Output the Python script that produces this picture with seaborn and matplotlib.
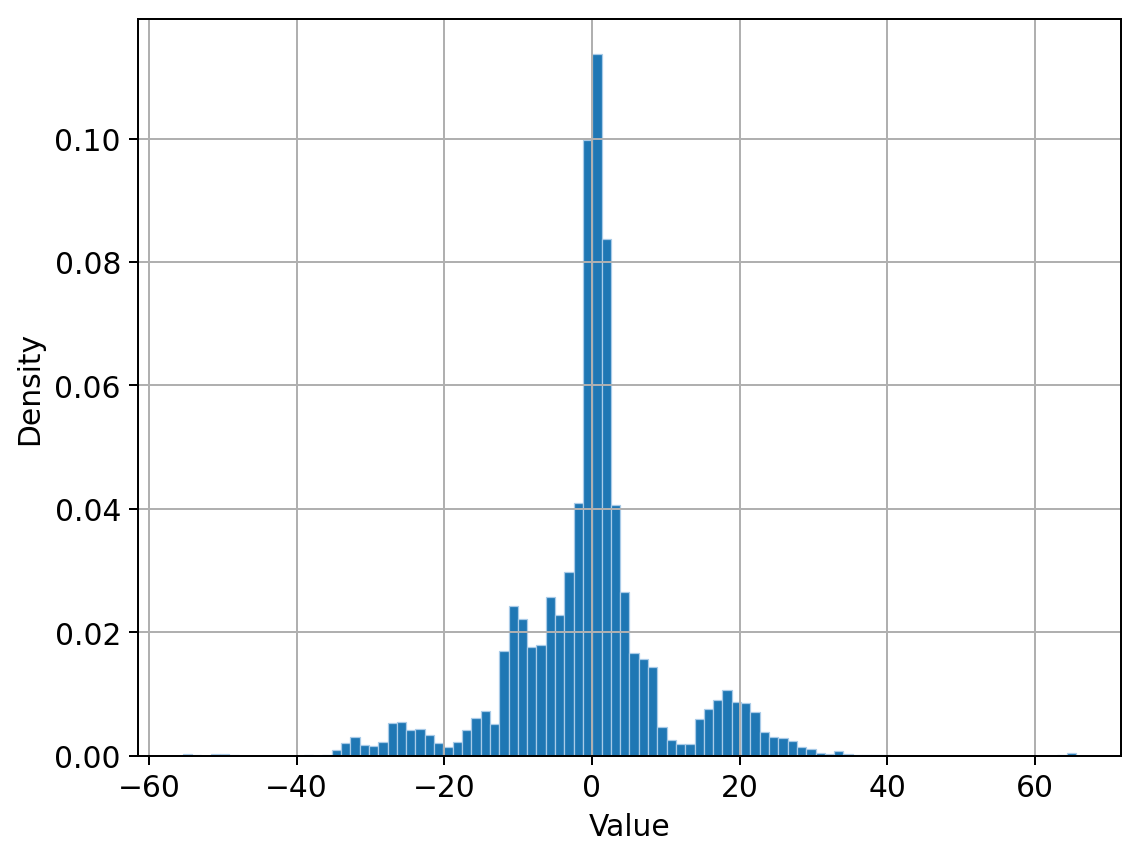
import numpy as np
import pandas as pd
import matplotlib
matplotlib.use("Agg")
import matplotlib.pyplot as plt
import seaborn as sns

# histogram: 96 equal bins, density per bin
bin_lo = -55.4
bin_hi = 65.56
density = [
    0.0003, 0.0002, 0.0, 0.0003, 0.0003, 0.0001, 0.0, 0.0, 0.0, 0.0,
    0.0, 0.0, 0.0, 0.0001, 0.0, 0.0002, 0.0010, 0.0021, 0.0031, 0.0017,
    0.0016, 0.0023, 0.0053, 0.0054, 0.0041, 0.0044, 0.0034, 0.0020, 0.0014, 0.0023,
    0.0041, 0.0061, 0.0073, 0.0051, 0.0170, 0.0243, 0.0222, 0.0177, 0.0180, 0.0258,
    0.0228, 0.0298, 0.0409, 0.0998, 0.1137, 0.0837, 0.0407, 0.0265, 0.0167, 0.0157,
    0.0143, 0.0047, 0.0026, 0.0019, 0.0019, 0.0060, 0.0075, 0.0090, 0.0106, 0.0087,
    0.0086, 0.0071, 0.0038, 0.0030, 0.0028, 0.0024, 0.0014, 0.0011, 0.0005, 0.0003,
    0.0008, 0.0003, 0.0002, 0.0002, 0.0001, 0.0001, 0.0, 0.0, 0.0, 0.0,
    0.0, 0.0, 0.0, 0.0, 0.0, 0.0, 0.0, 0.0, 0.0, 0.0,
    0.0, 0.0, 0.0, 0.0, 0.0002, 0.0004,
]

edges = np.linspace(bin_lo, bin_hi, len(density) + 1)
df = pd.DataFrame({'value': (edges[:-1] + edges[1:]) / 2, 'dens': density})

plt.rcParams['font.size'] = 12

fig, ax = plt.subplots(figsize=(6.4, 4.8), dpi=178.5)
sns.histplot(data=df, x='value', weights='dens', bins=edges.tolist(), stat='count',
             color='#1f77b4', alpha=1, edgecolor='#a9cbe8', linewidth=0.5, ax=ax)

ax.grid(True)
ax.set_xlabel('Value', fontsize=12)
ax.set_ylabel('Density', fontsize=12)
ax.set_xticks([-60, -40, -20, 0, 20, 40, 60])
ax.tick_params(labelsize=12)
fig.subplots_adjust(left=0.121, right=0.981, top=0.977, bottom=0.117)
plt.savefig('out.png', dpi=178.5)
